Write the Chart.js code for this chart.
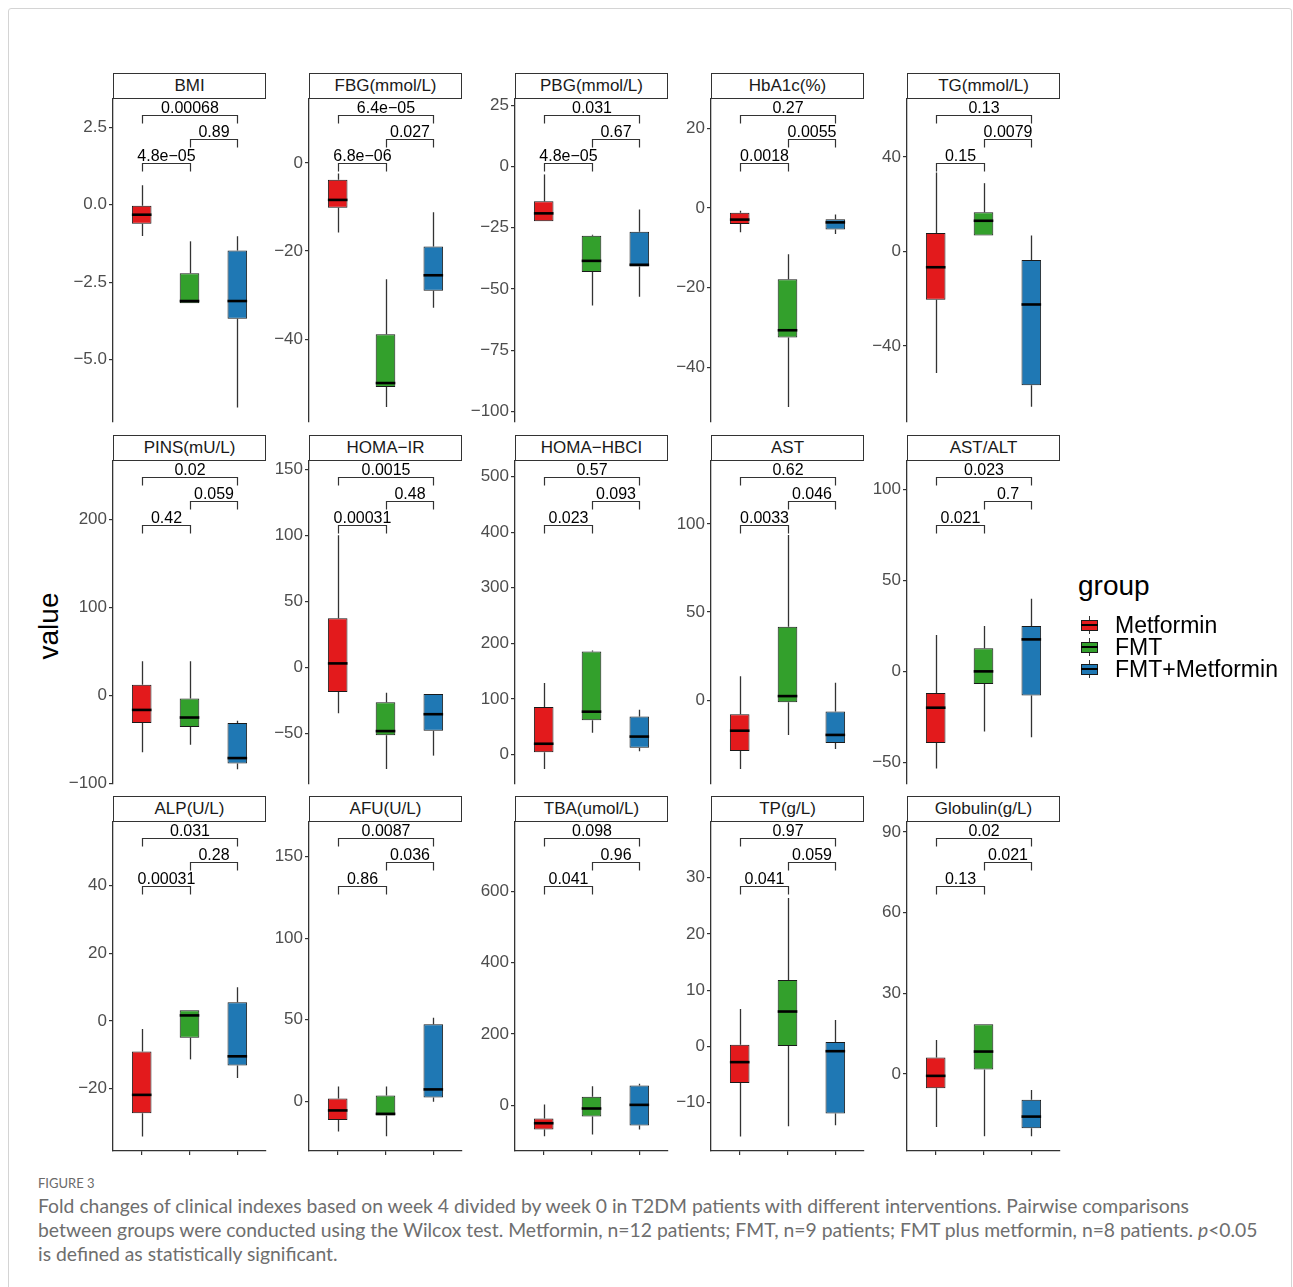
<!DOCTYPE html>
<html><head><meta charset="utf-8">
<script src="https://cdn.jsdelivr.net/npm/chart.js@4.4.0/dist/chart.umd.min.js"></script>
<style>
html,body{margin:0;padding:0;background:#fff;}
#page{position:relative;width:1293px;height:1287px;overflow:hidden;font-family:"Liberation Sans",Arial,sans-serif;}
#frame{position:absolute;left:8px;top:8px;width:1284px;height:1300px;border:1px solid #d4d4d4;border-radius:3px;box-sizing:border-box;}
.strip{position:absolute;height:26px;border:1.2px solid #333;box-sizing:border-box;background:#fff;font-size:17px;color:#1a1a1a;text-align:center;line-height:23.6px;white-space:nowrap;}
.pc{position:absolute;}
#ylab{position:absolute;left:49px;top:626px;transform:translate(-50%,-50%) rotate(-90deg);font-size:28px;color:#000;white-space:nowrap;}
#legtitle{position:absolute;left:1078px;top:570px;font-size:28px;line-height:32px;color:#000;}
.legitem{position:absolute;left:1081px;width:220px;height:22px;}
.legkey{position:absolute;left:0;top:0;width:17px;height:22px;}
.legkey .wh{position:absolute;left:8px;top:2px;width:1.3px;height:18px;background:#333;}
.legkey .bx{position:absolute;left:0;top:5.5px;width:17px;height:11.5px;border:1px solid #1a1a1a;box-sizing:border-box;}
.legkey .md{position:absolute;left:0;top:10px;width:17px;height:2.4px;background:#000;}
.legtxt{position:absolute;left:34px;top:-2px;font-size:23px;line-height:26px;color:#000;white-space:nowrap;}
#figlab{position:absolute;left:38px;top:1175px;font-family:Lato,"Open Sans",sans-serif;font-size:13px;color:#6a6a6a;line-height:16px;}
#cap{position:absolute;left:38px;top:1194px;font-family:Lato,"Open Sans",sans-serif;font-size:17px;color:#6e6e6e;line-height:24px;}
#cap span{display:inline-block;white-space:nowrap;}
</style></head>
<body><div id="page">
<div id="frame"></div>
<div id="ylab">value</div>
<div id="legtitle">group</div>
<div id="figlab">FIGURE 3</div>
<div id="cap"><span class="cl">Fold changes of clinical indexes based on week 4 divided by week 0 in T2DM patients with different interventions. Pairwise comparisons</span><br><span class="cl">between groups were conducted using the Wilcox test. Metformin, n=12 patients; FMT, n=9 patients; FMT plus metformin, n=8 patients. <i>p</i>&lt;0.05</span><br><span class="cl">is defined as statistically significant.</span></div>
</div>
<script>
// ---------- DATA ----------
const groups = ['Metformin', 'FMT', 'FMT+Metformin'];
const panelNames = ['BMI','FBG(mmol/L)','PBG(mmol/L)','HbA1c(%)','TG(mmol/L)',
  'PINS(mU/L)','HOMA\u2212IR','HOMA\u2212HBCI','AST','AST/ALT',
  'ALP(U/L)','AFU(U/L)','TBA(umol/L)','TP(g/L)','Globulin(g/L)'];

// five-number summaries per group: [lower whisker, Q1, median, Q3, upper whisker]
const statsBMI = [[-1.01,-0.61,-0.32,-0.03,0.63],[-3.18,-3.18,-3.11,-2.21,-1.18],[-6.55,-3.68,-3.11,-1.48,-1.02]];
const statsFBG = [[-15.8,-10.2,-8.4,-3.8,-2.4],[-55.4,-50.85,-49.96,-38.9,-26.4],[-32.9,-29.0,-25.5,-19.0,-11.2]];
const statsPBG = [[-22.3,-22.3,-19.1,-14.2,-3.2],[-56.7,-43.0,-38.5,-28.2,-27.8],[-53.2,-40.8,-40.1,-26.6,-17.5]];
const statsHbA1c = [[-6.1,-4.0,-2.9,-1.2,-0.7],[-50.0,-32.5,-30.7,-17.9,-11.6],[-6.5,-5.4,-3.6,-2.8,-1.6]];
const statsTG = [[-51.4,-20.4,-6.65,7.8,33.4],[6.8,6.8,13.0,16.6,28.9],[-65.7,-56.6,-22.4,-3.6,6.8]];
const statsPINS = [[-64.2,-31.2,-16.3,12.2,39],[-55.7,-35.6,-24.9,-3.3,39],[-83.5,-77.1,-70.9,-31.2,-28.6]];
const statsHOMAIR = [[-34.7,-18.6,3.0,37.2,100.1],[-77.1,-51.5,-48.3,-26.5,-19.3],[-66.9,-48.1,-35.5,-20.1,-20.1]];
const statsHOMAHBCI = [[-25.9,4.1,19.4,85.3,128.8],[39.4,61.8,77.1,185.3,187],[5.9,12.4,32.3,68.3,80.7]];
const statsAST = [[-38.9,-28.7,-17.2,-7.9,13.7],[-19.6,-1.1,2.4,41.7,93.7],[-27.6,-24.2,-19.6,-6.3,10.0]];
const statsASTALT = [[-53.5,-39.4,-20,-11.9,20],[-33.1,-7.0,0,12.7,25],[-36.2,-13.3,17.6,25,40]];
const statsALP = [[-34.2,-27.3,-21.9,-9.1,-2.4],[-11.4,-5.0,1.6,3.1,3.1],[-16.9,-13.2,-10.5,5.5,9.9]];
const statsAFU = [[-18.6,-11.5,-5.7,1.6,9.0],[-21.5,-8.8,-7.8,3.5,9.0],[-0.4,2.3,7.2,47.2,51.1]];
const statsTBA = [[-87.2,-68.4,-50.6,-37.4,2],[-82.5,-31.9,-9.3,23.4,53.4],[-68.4,-57,0.9,55.2,60]];
const statsTP = [[-16.0,-6.5,-2.8,0.3,6.65],[-14.2,0.05,6.2,11.8,26.4],[-14.0,-11.95,-0.85,0.8,4.7]];
const statsGlobulin = [[-19.8,-5.4,-0.75,6.1,12.6],[-23.2,1.6,8.3,18.5,18.5],[-23.2,-20.2,-15.9,-9.6,-6.0]];

// y-axis ranges per panel [min, max]
const yRanges = [[-7.02,3.42],[-58.8,14.5],[-104.3,27.6],[-53.75,27.4],[-72.1,64.5],
  [-100.3,266],[-88.4,156.4],[-53,528],[-47.4,135.6],[-62,115.8],
  [-38.5,58.8],[-30.6,171.3],[-128.6,795],[-18.6,39.9],[-28.7,93.7]];

// y tick values and labels per panel
const tickValues = [[2.5,0,-2.5,-5],[0,-20,-40],[25,0,-25,-50,-75,-100],[20,0,-20,-40],[40,0,-40],
  [200,100,0,-100],[150,100,50,0,-50],[500,400,300,200,100,0],[100,50,0],[100,50,0,-50],
  [40,20,0,-20],[150,100,50,0],[600,400,200,0],[30,20,10,0,-10],[90,60,30,0]];
const tickLabels = [['2.5','0.0','\u22122.5','\u22125.0'],['0','\u221220','\u221240'],['25','0','\u221225','\u221250','\u221275','\u2212100'],['20','0','\u221220','\u221240'],['40','0','\u221240'],
  ['200','100','0','\u2212100'],['150','100','50','0','\u221250'],['500','400','300','200','100','0'],['100','50','0'],['100','50','0','\u221250'],
  ['40','20','0','\u221220'],['150','100','50','0'],['600','400','200','0'],['30','20','10','0','\u221210'],['90','60','30','0']];

// p-values: [Metformin vs FMT, FMT vs FMT+Metformin, Metformin vs FMT+Metformin]
const pValues = [['4.8e\u221205','0.89','0.00068'],['6.8e\u221206','0.027','6.4e\u221205'],['4.8e\u221205','0.67','0.031'],['0.0018','0.0055','0.27'],['0.15','0.0079','0.13'],
  ['0.42','0.059','0.02'],['0.00031','0.48','0.0015'],['0.023','0.093','0.57'],['0.0033','0.046','0.62'],['0.021','0.7','0.023'],
  ['0.00031','0.28','0.031'],['0.86','0.036','0.0087'],['0.041','0.96','0.098'],['0.041','0.059','0.97'],['0.13','0.021','0.02']];

const allStats = [statsBMI,statsFBG,statsPBG,statsHbA1c,statsTG,statsPINS,statsHOMAIR,statsHOMAHBCI,statsAST,statsASTALT,statsALP,statsAFU,statsTBA,statsTP,statsGlobulin];

// ---------- STYLE / LAYOUT ----------
const groupColors = ['#E31A1C', '#33A02C', '#1F78B4'];
const colLeft = [113, 309, 515, 711, 907];
const panelW = 153;
const rowPlotTop = [99, 461, 822];
const stripTop = [73, 435, 796];
const plotH = 329;
const LW = 70, PT = 15, PB = 15, PR = 15, XH = 6;

Chart.defaults.font.family = '"Liberation Sans", Arial, sans-serif';

const page = document.getElementById('page');

function makePlugin(stats, pv) {
  return {
    id: 'boxParts',
    beforeDatasetsDraw(chart) {
      const {ctx, scales: {x, y}} = chart;
      ctx.save();
      ctx.strokeStyle = '#333';
      ctx.lineWidth = 1.3;
      stats.forEach((s, i) => {
        const px = Math.round(x.getPixelForValue(i + 1)) + 0.5;
        ctx.beginPath();
        ctx.moveTo(px, y.getPixelForValue(s[0]));
        ctx.lineTo(px, y.getPixelForValue(s[1]));
        ctx.moveTo(px, y.getPixelForValue(s[3]));
        ctx.lineTo(px, y.getPixelForValue(s[4]));
        ctx.stroke();
      });
      ctx.restore();
    },
    afterDatasetsDraw(chart) {
      const {ctx, scales: {y}} = chart;
      const meta = chart.getDatasetMeta(0);
      ctx.save();
      ctx.strokeStyle = '#000';
      ctx.lineWidth = 2.6;
      stats.forEach((s, i) => {
        const bar = meta.data[i];
        const py = y.getPixelForValue(s[2]);
        ctx.beginPath();
        ctx.moveTo(bar.x - bar.width / 2, py);
        ctx.lineTo(bar.x + bar.width / 2, py);
        ctx.stroke();
      });
      ctx.restore();
    },
    afterDraw(chart) {
      const {ctx, chartArea, scales: {x}} = chart;
      const pairs = [[1, 2, 63.5], [2, 3, 39.5], [1, 3, 15.5]];
      ctx.save();
      ctx.strokeStyle = '#333';
      ctx.lineWidth = 1.2;
      ctx.fillStyle = '#000';
      ctx.font = '16px "Liberation Sans", Arial, sans-serif';
      ctx.textAlign = 'center';
      ctx.textBaseline = 'alphabetic';
      pairs.forEach(([a, b, off], k) => {
        const x1 = Math.round(x.getPixelForValue(a)) + 0.5;
        const x2 = Math.round(x.getPixelForValue(b)) + 0.5;
        const yy = Math.round(chartArea.top + off) + 0.5;
        ctx.beginPath();
        ctx.moveTo(x1, yy + 8);
        ctx.lineTo(x1, yy);
        ctx.lineTo(x2, yy);
        ctx.lineTo(x2, yy + 8);
        ctx.stroke();
        ctx.fillText(pv[k], (x1 + x2) / 2, yy - 3);
      });
      ctx.restore();
    }
  };
}

panelNames.forEach((name, idx) => {
  const row = Math.floor(idx / 5), col = idx % 5;
  const bottomRow = row === 2;
  const stats = allStats[idx];
  const left = colLeft[col];

  const strip = document.createElement('div');
  strip.className = 'strip';
  strip.style.left = left + 'px';
  strip.style.top = stripTop[row] + 'px';
  strip.style.width = panelW + 'px';
  strip.textContent = name;
  page.appendChild(strip);

  const cw = LW + panelW + PR;
  const ch = PT + plotH + (bottomRow ? XH : 0) + PB;
  const cv = document.createElement('canvas');
  cv.className = 'pc';
  cv.width = cw; cv.height = ch;
  cv.style.left = (left - LW) + 'px';
  cv.style.top = (rowPlotTop[row] - PT) + 'px';
  cv.style.width = cw + 'px'; cv.style.height = ch + 'px';
  page.appendChild(cv);

  const tv = tickValues[idx], tl = tickLabels[idx];
  new Chart(cv, {
    type: 'bar',
    data: {
      labels: groups,
      datasets: [{
        data: stats.map((s, i) => ({x: i + 1, y: [s[1], s[3]]})),
        backgroundColor: groupColors,
        borderColor: '#1a1a1a',
        borderWidth: 1,
        borderSkipped: false,
        barPercentage: 0.41,
        categoryPercentage: 1
      }]
    },
    options: {
      responsive: false,
      animation: false,
      devicePixelRatio: 1,
      layout: {padding: {top: PT, bottom: PB, left: 0, right: PR}},
      plugins: {legend: {display: false}, tooltip: {enabled: false}},
      scales: {
        x: {
          type: 'linear', min: 0.4, max: 3.6, offset: false,
          display: bottomRow,
          grid: {display: true, offset: false, drawOnChartArea: false, drawTicks: true, tickLength: 4, color: '#333', lineWidth: 1.2},
          border: {display: true, color: '#333', width: 1.3},
          ticks: {callback: () => '', autoSkip: false, maxRotation: 0},
          afterBuildTicks: s => { s.ticks = [1, 2, 3].map(v => ({value: v})); },
          afterFit: s => { s.height = XH; }
        },
        y: {
          type: 'linear', min: yRanges[idx][0], max: yRanges[idx][1],
          grid: {display: true, offset: false, drawOnChartArea: false, drawTicks: true, tickLength: 4, color: '#333', lineWidth: 1.2},
          border: {display: true, color: '#333', width: 1.3},
          ticks: {autoSkip: false, color: '#4d4d4d', font: {size: 17}, padding: 2,
                  callback: (v, i) => tl[i]},
          afterBuildTicks: s => { s.ticks = tv.map(v => ({value: v})); },
          afterFit: s => { s.width = LW; }
        }
      }
    },
    plugins: [makePlugin(stats, pValues[idx])]
  });
});

// legend
const legY = [614, 636, 658];
groups.forEach((g, i) => {
  const it = document.createElement('div');
  it.className = 'legitem';
  it.style.top = legY[i] + 'px';
  it.innerHTML = '<div class="legkey"><div class="wh"></div><div class="bx" style="background:' + groupColors[i] + '"></div><div class="md"></div></div><div class="legtxt"></div>';
  it.querySelector('.legtxt').textContent = g;
  page.appendChild(it);
});

// fit caption width to reference line width
const cl = document.querySelectorAll('#cap .cl');
const w0 = cl[0].getBoundingClientRect().width;
document.getElementById('cap').style.fontSize = (17 * 1152 / w0) + 'px';
</script>
</body></html>
